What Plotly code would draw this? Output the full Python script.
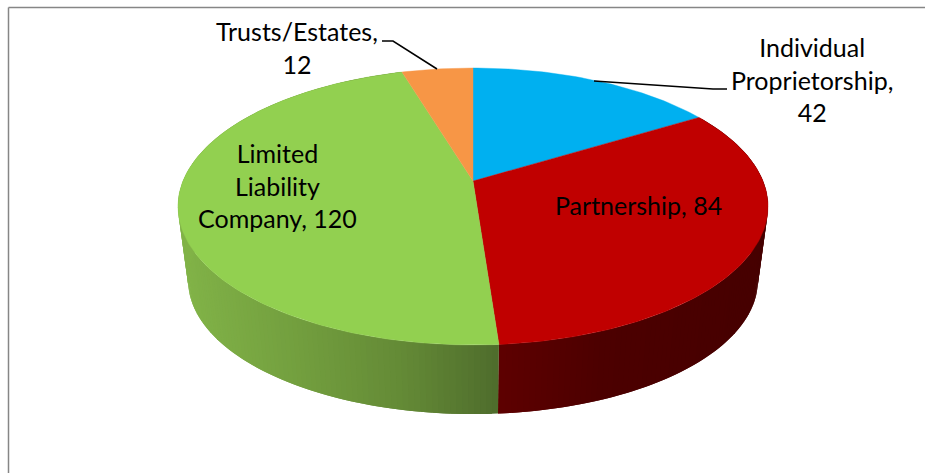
import math
import plotly.graph_objects as go

# Data
categories = ["Individual Proprietorship", "Partnership", "Limited Liability Company", "Trusts/Estates"]
values = [42, 84, 120, 12]
colors = ["#00B0F0", "#C00000", "#92D050", "#F79646"]
label_texts = ["Individual<br>Proprietorship,<br>42", "Partnership, 84",
               "Limited<br>Liability<br>Company, 120", "Trusts/Estates,<br>12"]
label_x = [812, 638, 277, 297]
label_y = [79, 205, 185, 47]

W, H = 925, 473
CX = 473
TOP = dict(cy=181, a=290, b=133.8)
BOTTOM = dict(cy=256, a=280, b=129)
K = 0.184
STEP = 1.0


def project(deg, disk):
    t = math.radians(deg)
    u, v = math.sin(t), math.cos(t)
    w = 1 + K * v
    return CX + disk["a"] * u / w, disk["cy"] - disk["b"] * v / w


def arc(d0, d1, disk):
    n = max(2, int(abs(d1 - d0) / STEP) + 1)
    return [project(d0 + (d1 - d0) * i / (n - 1), disk) for i in range(n)]


def lerp(stops, x):
    if x <= stops[0][0]:
        return stops[0][1]
    for (x0, c0), (x1, c1) in zip(stops, stops[1:]):
        if x <= x1:
            f = (x - x0) / (x1 - x0)
            return tuple(a + (b - a) * f for a, b in zip(c0, c1))
    return stops[-1][1]


SIDE_STOPS = {
    1: [(498, (94, 0, 0)), (600, (76, 0, 0)), (770, (70, 0, 0))],
    2: [(178, (130, 180, 72)), (300, (114, 158, 62)), (400, (100, 138, 54)), (498, (78, 108, 44))],
}

fig = go.Figure()
total = sum(values)
starts = []
acc = 0
for val in values:
    starts.append((acc / total * 360, (acc + val) / total * 360))
    acc += val

# Side wall: overlapping strips carrying the shading (no outlines, so no seams)
for i, (d0, d1) in enumerate(starts):
    if i not in SIDE_STOPS:
        continue
    d = d0
    while d < d1:
        e = min(d + STEP, d1)
        far = min(d + 2 * STEP, d1)
        pts = arc(d, far, TOP) + arc(far, d, BOTTOM)
        xs = [p[0] for p in pts] + [pts[0][0]]
        ys = [p[1] for p in pts] + [pts[0][1]]
        r, g, b = lerp(SIDE_STOPS[i], sum(xs) / len(xs))
        col = f"rgb({r:.0f},{g:.0f},{b:.0f})"
        fig.add_trace(go.Scatter(x=xs, y=ys, mode="lines", fill="toself", fillcolor=col,
                                 line=dict(width=0), hoverinfo="skip", showlegend=False))
        d = e

# Top face
for i, (d0, d1) in enumerate(starts):
    pts = [(CX, TOP["cy"])] + arc(d0, d1, TOP) + [(CX, TOP["cy"])]
    fig.add_trace(go.Scatter(x=[p[0] for p in pts], y=[p[1] for p in pts], mode="lines",
                             fill="toself", fillcolor=colors[i], line=dict(color=colors[i], width=0.4),
                             name=categories[i], hoverinfo="name", showlegend=False))

# Leader lines
fig.add_trace(go.Scatter(x=[382, 393, 437], y=[41, 41, 69], mode="lines",
                         line=dict(color="black", width=1.5), hoverinfo="skip", showlegend=False))
fig.add_trace(go.Scatter(x=[594, 713, 727], y=[81, 89, 89], mode="lines",
                         line=dict(color="black", width=1.5), hoverinfo="skip", showlegend=False))

# Labels
for t, x, y in zip(label_texts, label_x, label_y):
    fig.add_annotation(x=x, y=y, text=t, showarrow=False, xanchor="center", yanchor="middle",
                       font=dict(family="Lato", size=25, color="black"))

# Chart frame
frame = dict(color="#868686", width=1.5)
fig.add_shape(type="line", x0=8.5, x1=8.5, y0=7.5, y1=H, line=frame)
fig.add_shape(type="line", x0=8.5, x1=W, y0=7.5, y1=7.5, line=frame)

fig.update_layout(width=W, height=H, margin=dict(l=0, r=0, t=0, b=0),
                  paper_bgcolor="white", plot_bgcolor="white", showlegend=False,
                  xaxis=dict(range=[0, W], visible=False, fixedrange=True),
                  yaxis=dict(range=[H, 0], visible=False, fixedrange=True))
fig.write_html("out.html", config=dict(displayModeBar=False),
               post_script="document.body.style.margin='0';document.documentElement.style.overflow='hidden';")
